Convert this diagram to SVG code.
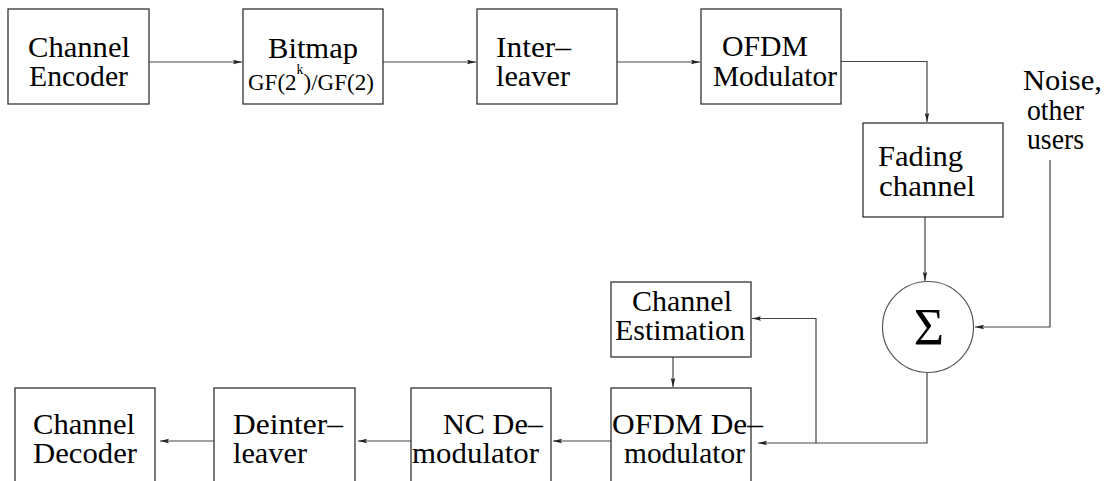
<svg xmlns="http://www.w3.org/2000/svg" width="1104" height="481" viewBox="0 0 1104 481">
<style>
.box{fill:#fff;stroke:#333;stroke-width:1.3}
.ln{fill:none;stroke:#444;stroke-width:1.2}
.t{font-family:"Liberation Serif","DejaVu Serif","Times New Roman",serif;font-size:29px;fill:#000}
.s{font-family:"Liberation Serif","DejaVu Serif","Times New Roman",serif;font-size:23px;fill:#000}
</style>
<defs>
<marker id="ah" markerUnits="userSpaceOnUse" markerWidth="12" markerHeight="8" refX="9" refY="4" orient="auto">
<path d="M0,1.8 L9,4 L0,6.2 L1.5,4 z" fill="#222"/>
</marker>
</defs>
<rect width="1104" height="481" fill="#fff"/>
<g id="connectors">
<path class="ln" d="M149,62 H242" marker-end="url(#ah)"/>
<path class="ln" d="M383,62 H476" marker-end="url(#ah)"/>
<path class="ln" d="M617,62 H700" marker-end="url(#ah)"/>
<path class="ln" d="M841,61.5 H927 V122" marker-end="url(#ah)"/>
<path class="ln" d="M925,217 V281" marker-end="url(#ah)"/>
<path class="ln" d="M1050,160 V327 H975" marker-end="url(#ah)"/>
<path class="ln" d="M927,372 V443 H758" marker-end="url(#ah)"/>
<path class="ln" d="M816,443 V318.5 H752" marker-end="url(#ah)"/>
<path class="ln" d="M673,357 V387" marker-end="url(#ah)"/>
<path class="ln" d="M611,441 H553" marker-end="url(#ah)"/>
<path class="ln" d="M411,441 H358" marker-end="url(#ah)"/>
<path class="ln" d="M214,441 H160" marker-end="url(#ah)"/>
</g>
<g id="channel-encoder">
<rect class="box" x="8" y="9" width="141" height="95"/>
<text class="t" x="28" y="56.5" textLength="102" lengthAdjust="spacingAndGlyphs">Channel</text>
<text class="t" x="29" y="86" textLength="99" lengthAdjust="spacingAndGlyphs">Encoder</text>
</g>
<g id="bitmap">
<rect class="box" x="243" y="9" width="140" height="95"/>
<text class="t" x="268" y="58" textLength="90" lengthAdjust="spacingAndGlyphs">Bitmap</text>
<text class="s" x="248" y="90">GF(2<tspan font-size="14" dy="-16">k</tspan><tspan dy="16">)/GF(2)</tspan></text>
</g>
<g id="interleaver">
<rect class="box" x="477" y="9" width="140" height="95"/>
<text class="t" x="496" y="56.5" textLength="75" lengthAdjust="spacingAndGlyphs">Inter–</text>
<text class="t" x="496" y="86" textLength="74" lengthAdjust="spacingAndGlyphs">leaver</text>
</g>
<g id="ofdm-modulator">
<rect class="box" x="701" y="9" width="140" height="95"/>
<text class="t" x="722" y="55.5" textLength="86" lengthAdjust="spacingAndGlyphs">OFDM</text>
<text class="t" x="713" y="85.5" textLength="124" lengthAdjust="spacingAndGlyphs">Modulator</text>
</g>
<g id="fading-channel">
<rect class="box" x="863" y="123" width="140" height="94"/>
<text class="t" x="878" y="166" textLength="85" lengthAdjust="spacingAndGlyphs">Fading</text>
<text class="t" x="879" y="196" textLength="96" lengthAdjust="spacingAndGlyphs">channel</text>
</g>
<g id="noise">
<text class="t" x="1023" y="90" textLength="79" lengthAdjust="spacingAndGlyphs">Noise,</text>
<text class="t" x="1027" y="120" textLength="57" lengthAdjust="spacingAndGlyphs">other</text>
<text class="t" x="1027" y="149" textLength="57" lengthAdjust="spacingAndGlyphs">users</text>
</g>
<g id="sum">
<circle cx="928" cy="327" r="45.5" fill="#fff" stroke="#555" stroke-width="1.2"/>
<text class="t" x="929" y="345" text-anchor="middle" style="font-size:52px">Σ</text>
</g>
<g id="channel-estimation">
<rect class="box" x="611" y="282" width="140" height="75"/>
<text class="t" x="632" y="310.5" textLength="100" lengthAdjust="spacingAndGlyphs">Channel</text>
<text class="t" x="615" y="339.5" textLength="130" lengthAdjust="spacingAndGlyphs">Estimation</text>
</g>
<g id="ofdm-demodulator">
<rect class="box" x="611" y="388" width="140" height="110"/>
<text class="t" x="612" y="434" textLength="151" lengthAdjust="spacingAndGlyphs">OFDM De–</text>
<text class="t" x="624" y="463" textLength="121" lengthAdjust="spacingAndGlyphs">modulator</text>
</g>
<g id="nc-demodulator">
<rect class="box" x="411" y="388" width="140" height="110"/>
<text class="t" x="443" y="434" textLength="100" lengthAdjust="spacingAndGlyphs">NC De–</text>
<text class="t" x="412" y="463" textLength="127" lengthAdjust="spacingAndGlyphs">modulator</text>
</g>
<g id="deinterleaver">
<rect class="box" x="214" y="388" width="141" height="110"/>
<text class="t" x="233" y="434" textLength="110" lengthAdjust="spacingAndGlyphs">Deinter–</text>
<text class="t" x="233" y="463" textLength="74" lengthAdjust="spacingAndGlyphs">leaver</text>
</g>
<g id="channel-decoder">
<rect class="box" x="15" y="388" width="140" height="110"/>
<text class="t" x="33" y="434" textLength="102" lengthAdjust="spacingAndGlyphs">Channel</text>
<text class="t" x="33" y="463" textLength="104" lengthAdjust="spacingAndGlyphs">Decoder</text>
</g>
</svg>
